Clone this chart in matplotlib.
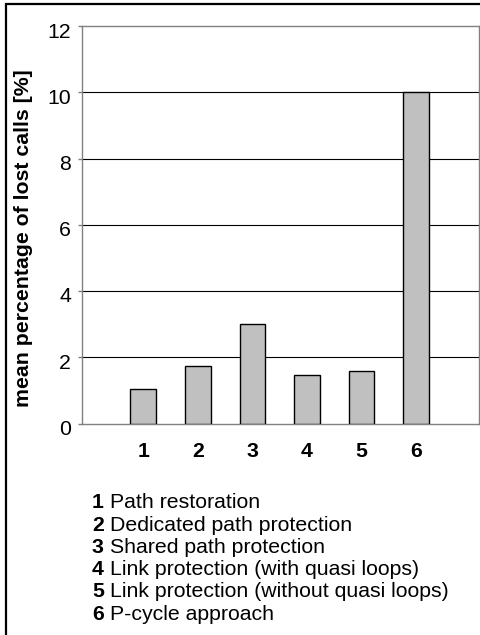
from matplotlib import pyplot as plt
from matplotlib.patches import Rectangle
from matplotlib.transforms import ScaledTranslation
import numpy as np

W, H = 480, 635

categories = ['1', '2', '3', '4', '5', '6']
lost_calls = [1.05, 1.75, 3.0, 1.47, 1.58, 10.0]
y_ticks = [0, 2, 4, 6, 8, 10, 12]
methods = ['Path restoration', 'Dedicated path protection', 'Shared path protection',
           'Link protection (with quasi loops)', 'Link protection (without quasi loops)',
           'P-cycle approach']

plt.rcParams['font.family'] = ['Liberation Sans', 'DejaVu Sans']
FS = 15.3

def fx(px):
    return px / W

def fy(py):
    return 1 - py / H

fig = plt.figure(figsize=(W / 100, H / 100), dpi=100)
ax = fig.add_axes([fx(81.5), fy(423.5), fx(479) - fx(81.5), fy(26) - fy(423.5)])

x = np.arange(1, len(categories) + 1)
ax.bar(x, lost_calls, width=0.47, color='#c0c0c0', edgecolor='black', linewidth=1.0, zorder=3)

ax.set_xlim(-0.13, 7.15)
ax.set_ylim(0, 12)
ax.set_yticks(y_ticks)
ax.set_yticklabels([])
ax.set_xticks(x)
ax.set_xticklabels(categories, fontsize=FS, fontweight='bold')
for t in y_ticks[1:-1]:
    ax.axhline(t, color='black', linewidth=0.8, zorder=1)

# excel puts the value labels a little under their gridline
ytrans = ax.get_yaxis_transform() + ScaledTranslation(-10.5 / 100, -6 / 100, fig.dpi_scale_trans)
for t in y_ticks:
    ax.text(0, t, str(t), transform=ytrans, fontsize=FS, ha='right', va='center', clip_on=False)

for s in ax.spines.values():
    s.set_color('#808080')
    s.set_linewidth(1.0)
ax.tick_params(axis='y', direction='out', length=3, width=1, color='#808080')
ax.tick_params(axis='x', length=0, pad=13)

fig.text(fx(24), fy(238), 'mean percentage of lost calls [%]', rotation=90,
         fontsize=FS, fontweight='bold', ha='center', va='center')

for i, m in enumerate(methods):
    yy = fy(503 + 22.2 * i)
    fig.text(fx(92), yy, categories[i], fontsize=FS, fontweight='bold', va='center')
    fig.text(fx(110), yy, m, fontsize=FS, va='center')

fig.patches.append(Rectangle((fx(6), -0.1), 1.2, fy(4) + 0.1, transform=fig.transFigure,
                             fill=False, edgecolor='black', linewidth=1.6))

fig.savefig('out.png', dpi=100)
